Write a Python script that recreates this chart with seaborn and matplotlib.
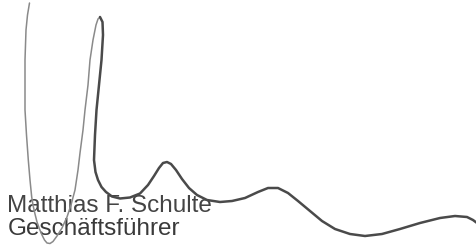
import matplotlib
matplotlib.use("Agg")
import matplotlib.pyplot as plt
import seaborn as sns
import pandas as pd

sns.set_theme(style="white")
plt.rcParams['font.family'] = ['Liberation Sans', 'DejaVu Sans']

# Signature strokes (image pixel coordinates, y measured from top)
stroke1_x = [29.5, 27.5, 26, 25, 25, 26.5, 28.3, 30, 31.7, 33, 35, 37, 39.5, 42, 44.5, 47,
             50, 53, 57, 62, 67, 71, 75, 78, 80, 83, 85, 88, 90, 93, 96, 98, 100]
stroke1_y = [3, 15, 30, 60, 110, 135, 160, 180, 197, 205, 214, 222, 229, 235, 240, 243,
             243.5, 241.5, 236, 228, 217, 205, 190, 170, 153, 130, 110, 85, 60, 40, 25, 19, 17]

stroke2_x = [100, 102.5, 103, 101.5, 99, 96.5, 95, 94, 95.5, 98, 101.5, 106, 112, 120, 130, 140, 148,
             154, 159, 163, 167, 171, 176, 182, 189, 197, 207, 220, 232, 245, 258, 268, 278, 288,
             298, 310, 322, 335, 350, 365, 382, 400, 420, 440, 455, 467, 473, 477]
stroke2_y = [17, 22, 35, 60, 85, 110, 135, 160, 172, 180, 187, 192, 196.5, 198.5, 197.5, 193.5, 185,
             176, 168, 163, 162, 164, 170, 179, 188, 195, 200, 202, 201, 198, 192, 188, 188, 193,
             201, 211, 221, 229, 234, 236, 234, 229, 223, 218, 216, 217, 220, 223]

name_text = "Matthias F. Schulte"
title_text = "Geschäftsführer"

fig = plt.figure(figsize=(4.77, 2.47), dpi=100)
ax = fig.add_axes([0, 0, 1, 1])

ax.text(7.5, 211.5, name_text, fontsize=17.5, color="#444444", va="baseline", ha="left", zorder=1)
ax.text(7.5, 235, title_text, fontsize=17.5, color="#3a3a3a", va="baseline", ha="left", zorder=1)

df1 = pd.DataFrame({"x": stroke1_x, "y": stroke1_y})
df2 = pd.DataFrame({"x": stroke2_x, "y": stroke2_y})
sns.lineplot(data=df1, x="x", y="y", sort=False, estimator=None, ax=ax, color="#8a8a8a", linewidth=1.1, zorder=2)
sns.lineplot(data=df2, x="x", y="y", sort=False, estimator=None, ax=ax, color="#4a4a4a", linewidth=1.8, zorder=2)

ax.set_xlim(0, 477)
ax.set_ylim(247, 0)
ax.axis("off")
fig.savefig("out.png", dpi=100, facecolor="white")
